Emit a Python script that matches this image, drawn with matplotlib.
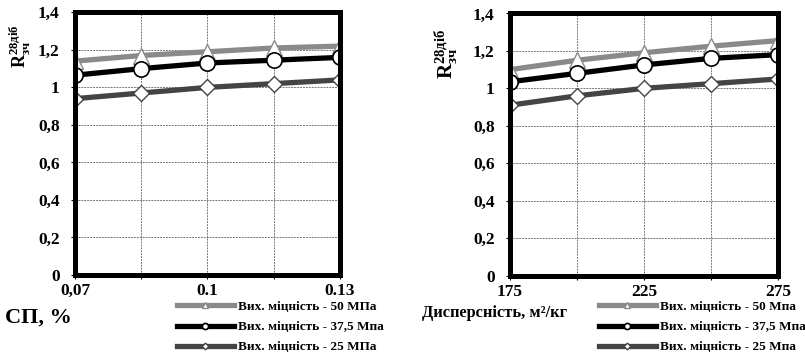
import matplotlib.pyplot as plt

plt.rcParams['font.family'] = ['Liberation Serif', 'DejaVu Serif']
plt.rcParams['font.weight'] = 'bold'
plt.rcParams['mathtext.fontset'] = 'custom'
plt.rcParams['mathtext.rm'] = 'Liberation Serif:bold'
plt.rcParams['mathtext.bf'] = 'Liberation Serif:bold'
plt.rcParams['mathtext.it'] = 'Liberation Serif:bold'

# вміст суперпластифікатора, %
sp = [0.07, 0.085, 0.1, 0.115, 0.13]
sp_ticks = ['0,07', '', '0.1', '', '0.13']
sp_50 = [1.14, 1.17, 1.19, 1.21, 1.22]
sp_375 = [1.065, 1.10, 1.13, 1.145, 1.16]
sp_25 = [0.94, 0.97, 1.0, 1.02, 1.04]

# дисперсність, м2/кг
disp = [175, 200, 225, 250, 275]
disp_ticks = ['175', '', '225', '', '275']
disp_50 = [1.10, 1.15, 1.19, 1.225, 1.255]
disp_375 = [1.035, 1.08, 1.125, 1.16, 1.18]
disp_25 = [0.91, 0.96, 1.0, 1.025, 1.05]

labels_l = ['Вих. міцність - 50 МПа', 'Вих. міцність - 37,5 Мпа', 'Вих. міцність - 25 МПа']
labels_r = ['Вих. міцність - 50 Мпа', 'Вих. міцність - 37,5 Мпа', 'Вих. міцність - 25 Мпа']

fig = plt.figure(figsize=(8.05, 3.53), dpi=100)
ax1 = fig.add_axes([0.0932, 0.221, 0.329, 0.744])
ax2 = fig.add_axes([0.6335, 0.219, 0.333, 0.743])


def draw(ax, x, y50, y375, y25, ticks, labels, leg_anchor):
    ax.plot(x, y50, color='#8a8a8a', lw=3.8, marker='^', ms=12,
            mfc='white', mec='#8a8a8a', mew=1, label=labels[0], zorder=3)
    ax.plot(x, y375, color='black', lw=3.8, marker='o', ms=11,
            mfc='white', mec='black', mew=1.2, label=labels[1], zorder=4)
    ax.plot(x, y25, color='#444444', lw=3.8, marker='D', ms=8.5,
            mfc='white', mec='#444444', mew=1, label=labels[2], zorder=5)
    ax.set_xlim(x[0], x[-1])
    ax.set_ylim(0, 1.4)
    ax.set_xticks(x)
    ax.set_xticklabels(ticks)
    ax.set_yticks([0, 0.2, 0.4, 0.6, 0.8, 1.0, 1.2, 1.4])
    ax.set_yticklabels(['0', '0,2', '0,4', '0,6', '0,8', '1', '1,2', '1,4'])
    ax.tick_params(labelsize=12.5, length=3, width=0.8, pad=3)
    ax.tick_params(axis='y', pad=8)
    ax.grid(True, color='#777777', ls=(0, (2, 1)), lw=0.7)
    for s in ax.spines.values():
        s.set_linewidth(3.6)
        s.set_zorder(6)
    for t in ax.get_xticklabels() + ax.get_yticklabels():
        t.set_fontweight('bold')
    h, l = ax.get_legend_handles_labels()
    leg = fig.legend(h, l, loc='upper left', bbox_to_anchor=leg_anchor,
                     bbox_transform=fig.transFigure,
                     frameon=False, fontsize=9.5, markerscale=0.4,
                     handlelength=4.3, handletextpad=0.3, labelspacing=0.6,
                     borderpad=0, borderaxespad=0)
    for t in leg.get_texts():
        t.set_fontweight('bold')


draw(ax1, sp, sp_50, sp_375, sp_25, sp_ticks, labels_l, (0.22, 0.148))
draw(ax2, disp, disp_50, disp_375, disp_25, disp_ticks, labels_r, (0.744, 0.148))

ax1.set_ylabel(r'$\mathbf{R_{зч}^{28діб}}$', fontsize=13)
ax1.yaxis.set_label_coords(-0.158, 0.87)
ax2.set_ylabel(r'$\mathbf{R_{зч}^{28діб}}$', fontsize=15)
ax2.yaxis.set_label_coords(-0.185, 0.845)

fig.text(0.006, 0.1, 'СП, %', fontsize=16, fontweight='bold', va='center')
fig.text(0.524, 0.113, 'Дисперсність, м²/кг', fontsize=11.8, fontweight='bold', va='center')

fig.savefig('out.png', dpi=100)
